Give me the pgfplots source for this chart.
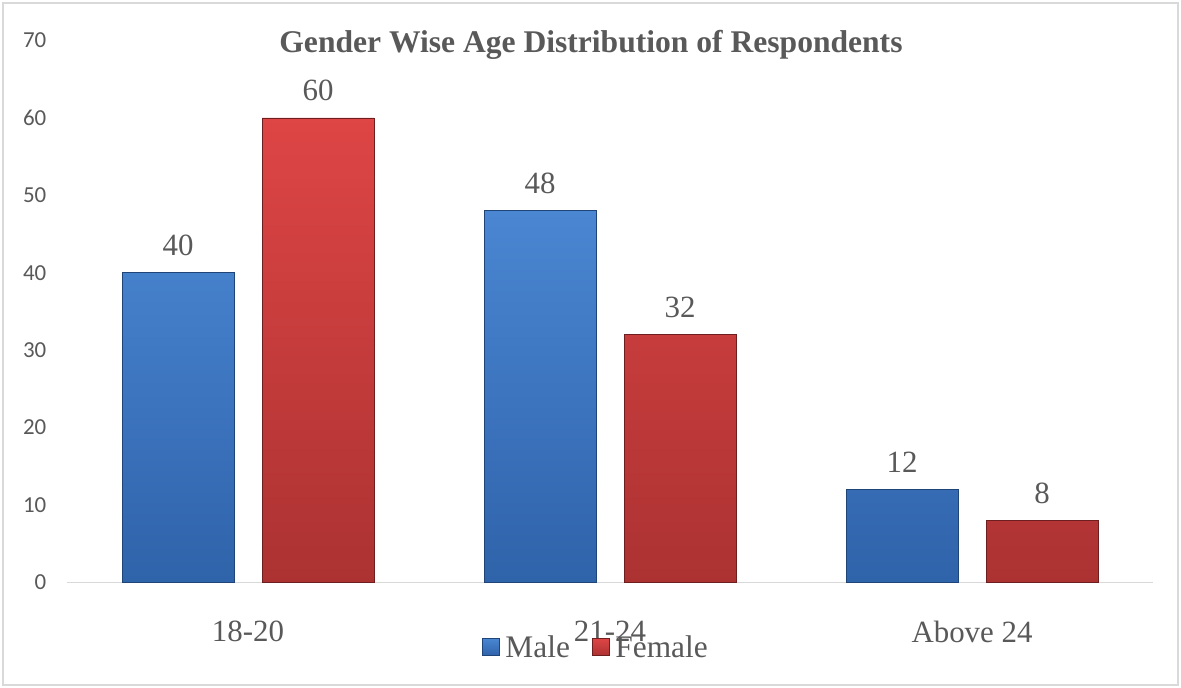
\documentclass[border=0pt]{standalone}
\usepackage{pgfplots}
\pgfplotsset{compat=1.18}
\usepackage{fontspec}
\setmainfont{Liberation Serif}
\newfontfamily\calibri{Carlito}
\definecolor{txt}{HTML}{595959}
\definecolor{bluetop}{HTML}{4A86D2}
\definecolor{bluebot}{HTML}{2F63AA}
\definecolor{blueedge}{HTML}{1F4578}
\definecolor{redtop}{HTML}{DE4545}
\definecolor{redbot}{HTML}{AC3232}
\definecolor{rededge}{HTML}{6E1E1E}
\definecolor{framegray}{HTML}{D9D9D9}
\begin{document}
\begin{tikzpicture}[x=1bp,y=1bp]
\path[use as bounding box, fill=white] (0,0) rectangle (1181,688);
\draw[framegray, line width=2bp] (3,3) rectangle (1178,685);
\begin{axis}[
  at={(67bp,105.5bp)}, anchor=south west,
  scale only axis, width=1086bp, height=542bp,
  xmin=-0.5, xmax=2.5, ymin=0, ymax=70,
  ybar=28bp, bar width=112bp,
  axis x line=bottom, axis y line=left,
  x axis line style={framegray, line width=1.5bp, -},
  y axis line style={draw=none},
  tick style={draw=none},
  xtick={0,1,2}, xticklabels={18-20,21-24,Above 24},
  ytick={0,10,...,70},
  /pgf/number format/assume math mode=true,
  yticklabel style={font=\calibri\fontsize{23}{26}\selectfont, text=txt, xshift=-15bp},
  xticklabel style={font=\fontsize{31}{36}\selectfont, text=txt, yshift=-33bp},
  nodes near coords,
  every node near coord/.append style={font=\fontsize{31}{36}\selectfont, text=txt, yshift=13bp},
  title={\textbf{Gender Wise Age Distribution of Respondents}},
  title style={font=\fontsize{31.7}{36}\selectfont, text=txt, at={(0.4825,1)}, anchor=center, yshift=-10bp},
  legend style={at={(0.487,-0.12)}, anchor=center, draw=none, fill=none,
    legend columns=-1, font=\fontsize{31.5}{36}\selectfont, text=txt,
    /tikz/every even column/.append style={column sep=20bp},
    /tikz/every odd column/.append style={column sep=4bp}},
  legend image code/.code={\draw[#1, line width=0.5bp] (0bp,-8bp) rectangle (17bp,9bp);},
  clip=false,
]
\addplot[top color=bluetop, bottom color=bluebot, draw=blueedge, line width=0.8bp]
  coordinates {(0,40) (1,48) (2,12)};
\addplot[top color=redtop, bottom color=redbot, draw=rededge, line width=0.8bp]
  coordinates {(0,60) (1,32) (2,8)};
\legend{Male,Female}
\end{axis}
\end{tikzpicture}
\end{document}
